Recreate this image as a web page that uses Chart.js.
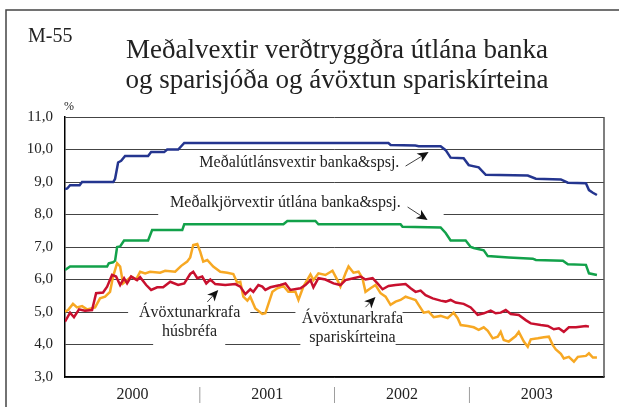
<!DOCTYPE html>
<html>
<head>
<meta charset="utf-8">
<script src="https://cdn.jsdelivr.net/npm/chart.js@4.4.1/dist/chart.umd.min.js"></script>
<style>
  html, body { margin: 0; padding: 0; background: #fff; }
  #wrap { width: 619px; height: 407px; }
</style>
</head>
<body>
<div id="wrap"><canvas id="chart" width="619" height="407"></canvas></div>
<script>
// x = months since start of 2000, y = percent
const years = ["2000", "2001", "2002", "2003"];
const yearTicks = [6, 12, 18, 24, 30, 36, 42];

const utlanMonths = [0, 0.2, 0.45, 1.3, 1.52, 4.3, 4.46, 4.73, 5.0, 5.35, 7.4, 7.67, 8.83, 9.1, 10.08, 10.62, 28.8, 29.0, 31.2, 31.5, 33.45, 33.9, 34.34, 35.5, 35.95, 36.84, 37.47, 41.21, 41.93, 44.16, 44.78, 46.39, 46.66, 47.01, 47.37];
const utlanRates = [8.78, 8.8, 8.9, 8.9, 9.0, 9.0, 9.1, 9.6, 9.65, 9.8, 9.8, 9.92, 9.92, 10.0, 10.0, 10.2, 10.2, 10.14, 10.12, 10.1, 10.1, 9.98, 9.75, 9.73, 9.52, 9.45, 9.22, 9.2, 9.1, 9.08, 8.98, 8.96, 8.75, 8.67, 8.6];

const kjorMonths = [0, 0.45, 3.75, 3.9, 4.28, 4.46, 4.64, 4.91, 5.26, 7.4, 7.76, 10.44, 10.62, 19.45, 19.8, 22.3, 22.57, 29.88, 30.06, 33.45, 33.9, 34.34, 35.68, 36.13, 36.4, 37.29, 37.65, 39.52, 41.66, 41.93, 44.34, 44.78, 46.39, 46.66, 47.37];
const kjorRates = [6.29, 6.4, 6.4, 6.5, 6.53, 6.58, 7.0, 7.02, 7.2, 7.2, 7.52, 7.52, 7.7, 7.7, 7.8, 7.8, 7.7, 7.7, 7.62, 7.6, 7.43, 7.2, 7.2, 7.0, 6.97, 6.9, 6.72, 6.68, 6.64, 6.6, 6.58, 6.47, 6.45, 6.19, 6.14];

const husbrefMonths = [0, 0.45, 0.8, 1.25, 1.78, 2.41, 2.77, 3.39, 3.75, 4.19, 4.55, 4.91, 5.26, 5.53, 5.89, 6.42, 6.69, 7.23, 7.67, 8.21, 8.74, 9.37, 10.08, 10.62, 11.15, 11.42, 11.78, 12.22, 12.58, 12.94, 13.38, 14.27, 15.17, 15.61, 16.06, 16.5, 16.77, 17.22, 17.57, 17.84, 18.29, 19.18, 19.63, 20.07, 20.96, 21.41, 21.86, 22.12, 22.57, 23.19, 23.91, 24.53, 24.98, 25.69, 26.32, 26.76, 27.39, 27.83, 28.28, 28.81, 29.44, 30.33, 30.78, 31.22, 31.67, 32.11, 32.74, 33.45, 33.9, 34.34, 34.79, 35.5, 36.13, 36.75, 37.29, 37.91, 38.36, 38.8, 39.25, 39.7, 40.41, 41.03, 41.48, 42.37, 43.0, 43.53, 43.98, 44.42, 44.87, 45.5, 46.39, 46.66];
const husbrefRates = [4.7, 4.98, 4.84, 5.08, 5.04, 5.06, 5.58, 5.6, 5.78, 6.14, 6.09, 5.83, 6.04, 5.88, 6.09, 5.98, 6.07, 5.83, 5.68, 5.76, 5.76, 5.93, 5.83, 5.88, 6.17, 6.24, 6.04, 6.09, 5.88, 6.0, 5.86, 5.83, 5.86, 5.78, 5.55, 5.7, 5.62, 5.83, 5.78, 5.68, 5.76, 5.83, 5.88, 5.68, 5.73, 5.83, 5.98, 5.76, 6.04, 6.0, 5.88, 5.83, 5.98, 6.04, 6.09, 6.0, 6.04, 5.88, 5.7, 5.8, 5.83, 5.86, 5.73, 5.62, 5.66, 5.52, 5.42, 5.35, 5.32, 5.37, 5.29, 5.25, 5.14, 4.91, 4.96, 5.04, 4.96, 4.98, 5.06, 4.94, 4.91, 4.75, 4.65, 4.6, 4.57, 4.47, 4.5, 4.39, 4.53, 4.53, 4.57, 4.55];

const sparMonths = [0, 0.27, 0.71, 1.07, 1.52, 1.96, 2.68, 3.12, 3.57, 4.01, 4.28, 4.64, 4.91, 5.17, 5.53, 5.89, 6.33, 6.69, 7.14, 7.58, 8.47, 8.92, 9.81, 10.35, 10.88, 11.15, 11.42, 11.78, 12.04, 12.31, 12.67, 13.2, 13.83, 14.45, 14.99, 15.34, 15.61, 15.88, 16.24, 16.5, 16.95, 17.57, 17.84, 18.47, 18.91, 19.45, 19.89, 20.52, 20.79, 21.23, 21.86, 22.12, 22.57, 23.19, 23.82, 24.26, 24.53, 24.98, 25.25, 25.69, 26.14, 26.49, 26.76, 27.21, 27.65, 28.1, 28.55, 28.99, 29.44, 29.88, 30.33, 30.78, 31.22, 31.49, 31.94, 32.38, 32.83, 33.45, 34.08, 34.61, 34.97, 35.24, 35.86, 36.4, 36.84, 37.29, 37.65, 38.09, 38.54, 38.8, 39.07, 39.52, 40.14, 40.41, 40.86, 41.21, 41.48, 42.11, 42.64, 43.09, 43.44, 43.71, 44.16, 44.42, 44.87, 45.32, 45.67, 46.39, 46.66, 47.01, 47.37];
const sparRates = [5.01, 5.06, 5.25, 5.14, 5.18, 5.08, 5.14, 5.42, 5.47, 5.62, 6.09, 6.5, 6.4, 5.88, 5.98, 6.09, 6.0, 6.24, 6.19, 6.24, 6.21, 6.27, 6.24, 6.42, 6.55, 6.68, 7.06, 7.09, 6.86, 6.55, 6.6, 6.4, 6.24, 6.21, 6.17, 5.9, 5.93, 5.47, 5.35, 5.47, 5.11, 4.94, 4.96, 5.62, 5.73, 5.8, 5.62, 5.62, 5.37, 5.78, 6.16, 5.98, 6.19, 6.14, 6.27, 5.98, 5.78, 6.19, 6.4, 6.21, 6.24, 6.04, 5.62, 5.73, 5.83, 5.58, 5.47, 5.22, 5.32, 5.37, 5.47, 5.42, 5.37, 5.22, 4.98, 5.01, 4.84, 4.88, 4.81, 4.98, 4.81, 4.6, 4.57, 4.53, 4.45, 4.53, 4.42, 4.19, 4.24, 4.39, 4.14, 4.09, 4.26, 4.39, 4.09, 3.93, 4.16, 4.19, 4.22, 4.24, 3.98, 3.85, 3.71, 3.57, 3.62, 3.47, 3.62, 3.65, 3.73, 3.6, 3.6];

const SERIF = "'Liberation Serif', 'Times New Roman', serif";

function pts(xs, ys) {
  return xs.map((x, i) => ({ x: x, y: ys[i] }));
}

// text labels and arrows, placed in data units (months, %)
const notes = [
  { lines: ["Meðalútlánsvextir banka&spsj."], x: 20.87, y: 9.585, arrow: [30.33, 9.49, 32.38, 9.92] },
  { lines: ["Meðalkjörvextir útlána banka&spsj."], x: 19.63, y: 8.354, arrow: [30.51, 8.23, 32.29, 7.83] },
  { lines: ["Ávöxtunarkrafa", "húsbréfa"], x: 11.1, y: 4.97, arrow: [12.67, 5.31, 13.65, 5.68] },
  { lines: ["Ávöxtunarkrafa", "spariskírteina"], x: 25.6, y: 4.785, arrow: [26.76, 5.15, 27.65, 5.46] }
];
// pieces of gridlines hidden behind the labels: [value, from month, to month]
const gridGaps = [
  [8, 8.3, 33.72],
  [5, 5.62, 16.5],
  [4, 7.85, 14.27],
  [5, 20.52, 30.06],
  [4, 20.96, 29.44]
];

function drawArrow(c, x1, y1, x2, y2) {
  const a = Math.atan2(y2 - y1, x2 - x1);
  c.strokeStyle = "#111";
  c.lineWidth = 0.8;
  c.beginPath();
  c.moveTo(x1, y1);
  c.lineTo(x2 - 6 * Math.cos(a), y2 - 6 * Math.sin(a));
  c.stroke();
  c.save();
  c.translate(x2, y2);
  c.rotate(a);
  c.fillStyle = "#111";
  c.beginPath();
  c.moveTo(0, 0);
  c.lineTo(-11, -5);
  c.lineTo(-8, 0);
  c.lineTo(-11, 5);
  c.closePath();
  c.fill();
  c.restore();
}

const decor = {
  id: "decor",
  beforeDraw(chart) {
    const c = chart.ctx;
    c.save();
    c.fillStyle = "#fff";
    c.fillRect(0, 0, chart.width, chart.height);
    c.strokeStyle = "#444";
    c.lineWidth = 1.5;
    c.beginPath();
    c.moveTo(6, chart.height + 5);
    c.lineTo(6, 10);
    c.lineTo(chart.width + 5, 10);
    c.stroke();

    c.fillStyle = "#222";
    c.textBaseline = "alphabetic";
    c.textAlign = "left";
    c.font = "20px " + SERIF;
    c.fillText("M-55", 28, 42);
    c.textAlign = "center";
    c.font = "27px " + SERIF;
    c.fillText("Meðalvextir verðtryggðra útlána banka", 337, 58);
    c.fillText("og sparisjóða og ávöxtun spariskírteina", 337, 88);
    c.font = "12px " + SERIF;
    c.fillText("%", 69, 110);
    c.restore();
  },
  beforeDatasetsDraw(chart) {
    const c = chart.ctx;
    const xs = chart.scales.x, ys = chart.scales.y;
    c.save();
    c.fillStyle = "#fff";
    gridGaps.forEach(g => {
      const y = ys.getPixelForValue(g[0]);
      const a = xs.getPixelForValue(g[1]), b = xs.getPixelForValue(g[2]);
      c.fillRect(a, y - 2, b - a, 4);
    });
    c.restore();
  },
  afterDatasetsDraw(chart) {
    const c = chart.ctx;
    const xs = chart.scales.x, ys = chart.scales.y;
    const area = chart.chartArea;
    c.save();
    c.strokeStyle = "#555";
    c.lineWidth = 1.5;
    c.beginPath();
    c.moveTo(area.right, area.top);
    c.lineTo(area.right, area.bottom);
    c.stroke();

    c.fillStyle = "#222";
    c.font = "16px " + SERIF;
    c.textAlign = "center";
    c.textBaseline = "middle";
    notes.forEach(n => {
      const x = xs.getPixelForValue(n.x);
      const y = ys.getPixelForValue(n.y);
      n.lines.forEach((t, i) => c.fillText(t, x, y + i * 19));
      const ar = n.arrow;
      drawArrow(c, xs.getPixelForValue(ar[0]), ys.getPixelForValue(ar[1]),
        xs.getPixelForValue(ar[2]), ys.getPixelForValue(ar[3]));
    });
    c.restore();
  }
};

const lineStyle = { borderWidth: 2.5, pointRadius: 0, tension: 0, fill: false };

new Chart(document.getElementById("chart"), {
  type: "line",
  data: {
    datasets: [
      Object.assign({ label: "Ávöxtunarkrafa húsbréfa", data: pts(husbrefMonths, husbrefRates), borderColor: "#c8102e" }, lineStyle),
      Object.assign({ label: "Ávöxtunarkrafa spariskírteina", data: pts(sparMonths, sparRates), borderColor: "#f7a823" }, lineStyle),
      Object.assign({ label: "Meðalkjörvextir útlána banka&spsj.", data: pts(kjorMonths, kjorRates), borderColor: "#12a14a" }, lineStyle),
      Object.assign({ label: "Meðalútlánsvextir banka&spsj.", data: pts(utlanMonths, utlanRates), borderColor: "#24358f" }, lineStyle)
    ]
  },
  options: {
    responsive: false,
    animation: false,
    devicePixelRatio: 1,
    layout: { padding: { top: 117, right: 15, left: 0, bottom: 0 } },
    plugins: { legend: { display: false }, tooltip: { enabled: false } },
    scales: {
      x: {
        type: "linear",
        min: 0,
        max: 48,
        afterBuildTicks: s => { s.ticks = yearTicks.map(v => ({ value: v })); },
        afterFit: s => { s.height = 30; },
        grid: { display: false, drawTicks: false },
        border: { color: "#000", width: 1.5 },
        ticks: {
          autoSkip: false,
          maxRotation: 0,
          padding: 8,
          font: { family: SERIF, size: 16 },
          color: ctx => (ctx.tick && ctx.tick.value % 12 === 6 ? "#222" : "#888"),
          callback: v => (v % 12 === 6 ? years[(v - 6) / 12] : "|")
        }
      },
      y: {
        min: 3,
        max: 11,
        afterFit: s => { s.width = 65; },
        grid: { color: "#444", lineWidth: 1, drawTicks: false },
        border: { color: "#000", width: 1.5 },
        ticks: {
          stepSize: 1,
          padding: 12,
          font: { family: SERIF, size: 15 },
          color: "#222",
          callback: v => v.toFixed(1).replace(".", ",")
        }
      }
    }
  },
  plugins: [decor]
});
</script>
</body>
</html>
